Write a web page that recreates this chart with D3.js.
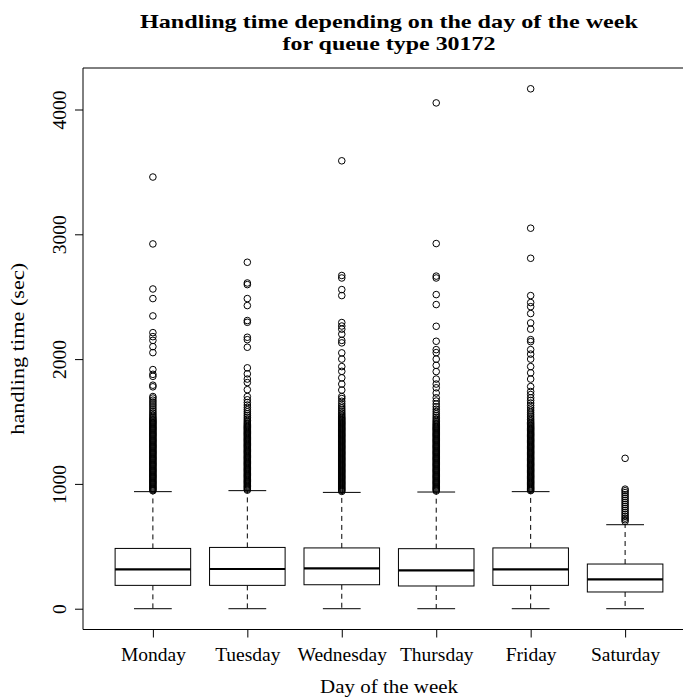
<!DOCTYPE html>
<html>
<head>
<meta charset="utf-8">
<script src="https://cdn.jsdelivr.net/npm/d3@7"></script>
<style>
  body { margin: 0; background: #fff; overflow: hidden; }
  svg { display: block; }
  text { font-family: "Liberation Serif", "Times New Roman", serif; fill: #000; }
</style>
</head>
<body>
<script>
// box statistics (seconds)
var days = ["Monday", "Tuesday", "Wednesday", "Thursday", "Friday", "Saturday"];
var lowWhisk = [0, 0, 0, 0, 0, 0];
var q1 = [187, 187, 192, 182, 187, 134];
var medians = [315, 318, 323, 307, 315, 235];
var q3 = [483, 491, 487, 481, 487, 358];
var highWhisk = [938, 946, 932, 935, 938, 673];
var yTicks = [0, 1000, 2000, 3000, 4000];

// outliers, one list per day (the low part is a dense cloud)
var monOut = [945, 953, 961, 968, 976, 984, 993, 1001, 1009, 1016, 1024, 1032, 1041, 1049, 1057, 1064, 1072, 1080, 1089, 1097, 1105, 1112, 1120, 1128, 1137, 1145, 1153, 1160, 1168, 1176, 1185, 1193, 1201, 1208, 1216, 1224, 1233, 1241, 1249, 1256, 1264, 1272, 1281, 1289, 1297, 1304, 1312, 1320, 1329, 1337, 1345, 1352, 1360, 1368, 1377, 1385, 1393, 1400, 1408, 1416, 1425, 1433, 1441, 1448, 1456, 1464, 1473, 1481, 1489, 1496, 1504, 1512, 1521, 1530, 1541, 1553, 1566, 1579, 1594, 1609, 1625, 1640, 1656, 1671, 1688, 1700, 1778, 1791, 1862, 1878, 1916, 2052, 2100, 2150, 2180, 2212, 2346, 2485, 2562, 2923, 3459];
var tueOut = [950, 958, 966, 974, 981, 989, 998, 1006, 1014, 1021, 1029, 1037, 1046, 1054, 1062, 1069, 1077, 1085, 1094, 1102, 1110, 1117, 1125, 1133, 1142, 1150, 1158, 1165, 1173, 1181, 1190, 1198, 1206, 1213, 1221, 1229, 1238, 1246, 1254, 1261, 1269, 1277, 1286, 1294, 1302, 1309, 1317, 1325, 1334, 1342, 1350, 1357, 1365, 1373, 1382, 1390, 1398, 1405, 1413, 1421, 1430, 1438, 1446, 1453, 1461, 1469, 1478, 1487, 1497, 1508, 1520, 1533, 1547, 1562, 1578, 1595, 1613, 1632, 1652, 1674, 1700, 1755, 1812, 1840, 1882, 1930, 2095, 2156, 2175, 2295, 2309, 2429, 2485, 2597, 2610, 2776];
var wedOut = [940, 948, 956, 963, 971, 979, 988, 996, 1004, 1011, 1019, 1027, 1036, 1044, 1052, 1059, 1067, 1075, 1084, 1092, 1100, 1107, 1115, 1123, 1132, 1140, 1148, 1155, 1163, 1171, 1180, 1188, 1196, 1203, 1211, 1219, 1228, 1236, 1244, 1251, 1259, 1267, 1276, 1284, 1292, 1299, 1307, 1315, 1324, 1332, 1340, 1347, 1355, 1363, 1372, 1380, 1388, 1395, 1403, 1411, 1420, 1428, 1436, 1443, 1451, 1459, 1468, 1476, 1484, 1491, 1499, 1507, 1516, 1524, 1533, 1543, 1554, 1566, 1579, 1593, 1608, 1624, 1642, 1662, 1684, 1700, 1752, 1800, 1850, 1902, 1940, 2000, 2050, 2130, 2150, 2200, 2240, 2265, 2293, 2509, 2557, 2650, 2670, 3589];
var thuOut = [943, 951, 959, 966, 974, 982, 991, 999, 1007, 1014, 1022, 1030, 1039, 1047, 1055, 1062, 1070, 1078, 1087, 1095, 1103, 1110, 1118, 1126, 1135, 1143, 1151, 1158, 1166, 1174, 1183, 1191, 1199, 1206, 1214, 1222, 1231, 1239, 1247, 1254, 1262, 1270, 1279, 1287, 1295, 1302, 1310, 1318, 1327, 1335, 1343, 1350, 1358, 1366, 1375, 1383, 1391, 1398, 1406, 1414, 1423, 1431, 1439, 1446, 1454, 1462, 1471, 1479, 1488, 1498, 1509, 1521, 1534, 1548, 1563, 1580, 1598, 1618, 1640, 1664, 1690, 1728, 1770, 1800, 1840, 1900, 1950, 2000, 2052, 2076, 2143, 2263, 2437, 2517, 2650, 2665, 2926, 4053];
var friOut = [946, 954, 962, 969, 977, 985, 994, 1002, 1010, 1017, 1025, 1033, 1042, 1050, 1058, 1065, 1073, 1081, 1090, 1098, 1106, 1113, 1121, 1129, 1138, 1146, 1154, 1161, 1169, 1177, 1186, 1194, 1202, 1209, 1217, 1225, 1234, 1242, 1250, 1257, 1265, 1273, 1282, 1290, 1298, 1305, 1313, 1321, 1330, 1338, 1346, 1353, 1361, 1369, 1378, 1386, 1394, 1401, 1409, 1417, 1426, 1434, 1442, 1449, 1457, 1465, 1474, 1483, 1493, 1504, 1516, 1529, 1543, 1558, 1574, 1591, 1609, 1628, 1648, 1669, 1690, 1716, 1740, 1780, 1840, 1890, 1940, 2000, 2040, 2076, 2140, 2156, 2240, 2290, 2365, 2420, 2453, 2509, 2808, 3049, 4166];
var satOut = [700, 713, 726, 740, 755, 770, 786, 802, 818, 834, 850, 866, 882, 898, 914, 930, 945, 958, 1205];
var outliers = [monOut, tueOut, wedOut, thuOut, friOut, satOut];

var W = 683, H = 700;
var pLeft = 83, pRight = 695, pTop = 68, pBottom = 629.5;

var svg = d3.select("body")
    .append("svg")
    .attr("width", W)
    .attr("height", H)
    .style("overflow", "hidden");

var x = d3.scalePoint()
    .domain(days)
    .range([pLeft, pRight])
    .padding(0.74);
var boxW = x.step() * 0.8;

var maxVal = d3.max(outliers, o => d3.max(o));
var pad = maxVal * 0.04;
var y = d3.scaleLinear()
    .domain([-pad, maxVal + pad])
    .range([pBottom, pTop]);

// whiskers (dashed), staples, boxes, outliers
days.forEach((d, i) => {
    var cx = x(d);
    svg.append("line")
        .attr("x1", cx).attr("x2", cx)
        .attr("y1", y(q3[i])).attr("y2", y(highWhisk[i]))
        .attr("stroke", "#000").attr("stroke-width", 1)
        .attr("stroke-dasharray", "5,4");
    svg.append("line")
        .attr("x1", cx).attr("x2", cx)
        .attr("y1", y(q1[i])).attr("y2", y(lowWhisk[i]))
        .attr("stroke", "#000").attr("stroke-width", 1)
        .attr("stroke-dasharray", "5,4");
    [lowWhisk[i], highWhisk[i]].forEach(v => {
        svg.append("line")
            .attr("x1", cx - boxW / 4).attr("x2", cx + boxW / 4)
            .attr("y1", y(v)).attr("y2", y(v))
            .attr("stroke", "#000").attr("stroke-width", 1);
    });
    svg.append("rect")
        .attr("x", cx - boxW / 2)
        .attr("y", y(q3[i]))
        .attr("width", boxW)
        .attr("height", y(q1[i]) - y(q3[i]))
        .attr("fill", "#fff")
        .attr("stroke", "#000")
        .attr("stroke-width", 1);
    svg.append("line")
        .attr("x1", cx - boxW / 2).attr("x2", cx + boxW / 2)
        .attr("y1", y(medians[i])).attr("y2", y(medians[i]))
        .attr("stroke", "#000").attr("stroke-width", 2.2);
    svg.append("g")
        .selectAll("circle")
        .data(outliers[i])
        .enter()
        .append("circle")
        .attr("cx", cx)
        .attr("cy", v => y(v))
        .attr("r", 3.3)
        .attr("fill", "none")
        .attr("stroke", "#000")
        .attr("stroke-width", 1);
});

// frame: top, left and bottom sides only
svg.append("line")
    .attr("x1", pLeft).attr("x2", pRight)
    .attr("y1", pTop).attr("y2", pTop)
    .attr("stroke", "#000").attr("stroke-width", 1);
svg.append("line")
    .attr("x1", pLeft).attr("x2", pLeft)
    .attr("y1", pTop).attr("y2", pBottom)
    .attr("stroke", "#000").attr("stroke-width", 1);
svg.append("line")
    .attr("x1", pLeft).attr("x2", pRight)
    .attr("y1", pBottom).attr("y2", pBottom)
    .attr("stroke", "#000").attr("stroke-width", 1);

// axes
var yAxis = svg.append("g")
    .attr("transform", "translate(" + pLeft + ",0)")
    .call(d3.axisLeft(y).tickValues(yTicks).tickSize(8).tickFormat(d3.format("d")));
yAxis.select(".domain").remove();
yAxis.selectAll("line").attr("stroke", "#000");
yAxis.selectAll("text")
    .attr("x", null).attr("dy", null)
    .attr("transform", "translate(-17,0) rotate(-90)")
    .attr("text-anchor", "middle")
    .style("font-size", "19.5px")
    .style("font-family", "Liberation Serif");

var xAxis = svg.append("g")
    .attr("transform", "translate(0," + pBottom + ")")
    .call(d3.axisBottom(x).tickSize(8));
xAxis.select(".domain").remove();
xAxis.selectAll("line").attr("stroke", "#000");
xAxis.selectAll("text")
    .attr("y", 31).attr("dy", null)
    .style("font-size", "19.5px")
    .style("font-family", "Liberation Serif");

// titles
var cx0 = (pLeft + pRight) / 2;
svg.append("text")
    .attr("x", cx0).attr("y", 28)
    .attr("text-anchor", "middle")
    .attr("textLength", 498).attr("lengthAdjust", "spacingAndGlyphs")
    .style("font-size", "19px").style("font-weight", "bold")
    .text("Handling time depending on the day of the week");
svg.append("text")
    .attr("x", cx0).attr("y", 50)
    .attr("text-anchor", "middle")
    .attr("textLength", 213).attr("lengthAdjust", "spacingAndGlyphs")
    .style("font-size", "19px").style("font-weight", "bold")
    .text("for queue type 30172");
svg.append("text")
    .attr("x", cx0).attr("y", 693)
    .attr("text-anchor", "middle")
    .attr("textLength", 138).attr("lengthAdjust", "spacingAndGlyphs")
    .style("font-size", "19.5px")
    .text("Day of the week");
svg.append("text")
    .attr("transform", "translate(24," + ((pTop + pBottom) / 2) + ") rotate(-90)")
    .attr("text-anchor", "middle")
    .attr("textLength", 172).attr("lengthAdjust", "spacingAndGlyphs")
    .style("font-size", "19.5px")
    .text("handling time (sec)");
</script>
</body>
</html>
